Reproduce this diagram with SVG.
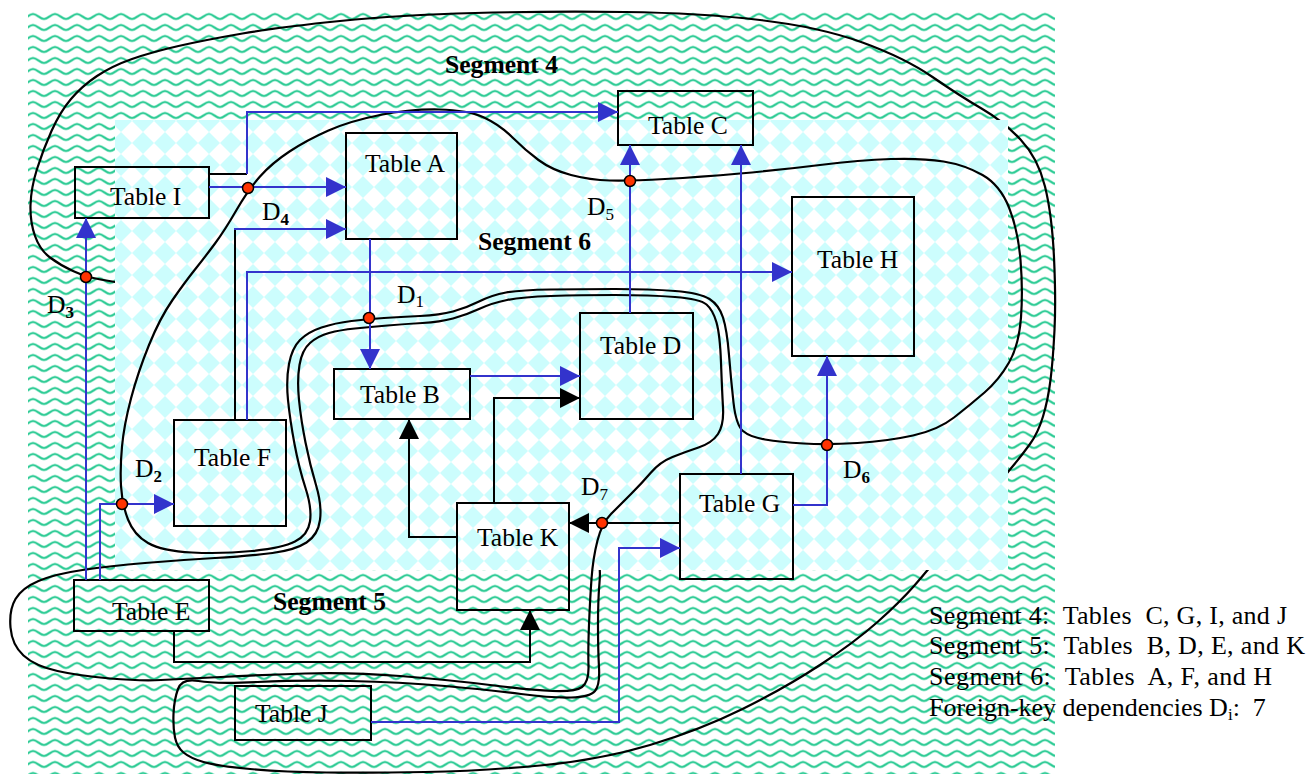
<svg xmlns="http://www.w3.org/2000/svg" width="1309" height="774" viewBox="0 0 1309 774">
  <defs>
    <!-- wavy green fill of the outer area -->
    <pattern id="waves" patternUnits="userSpaceOnUse" x="0" y="0" width="22" height="11">
      <rect width="22" height="11" fill="#ffffff"/>
      <path d="M-11,3 C-7,3 -4,8 0,8 C4,8 7,3 11,3 C15,3 18,8 22,8 C26,8 29,3 33,3" fill="none" stroke="#a6ecd4" stroke-width="3"/>
      <path d="M-11,3 C-7,3 -4,8 0,8 C4,8 7,3 11,3 C15,3 18,8 22,8 C26,8 29,3 33,3" fill="none" stroke="#2fcb95" stroke-width="1.6"/>
    </pattern>
    <!-- light cyan diamond checker of the inner area -->
    <pattern id="diamonds" patternUnits="userSpaceOnUse" x="0" y="0" width="22" height="22">
      <rect width="22" height="22" fill="#ffffff"/>
      <polygon points="11,0 22,11 11,22 0,11" fill="#ccfdfd"/>
    </pattern>
    <marker id="arrBlue" markerUnits="userSpaceOnUse" viewBox="0 0 20 20" markerWidth="20" markerHeight="20" refX="20" refY="10" orient="auto">
      <path d="M0,0 L20,10 L0,20 z" fill="#3333cc"/>
    </marker>
    <marker id="arrBlack" markerUnits="userSpaceOnUse" viewBox="0 0 20 20" markerWidth="20" markerHeight="20" refX="20" refY="10" orient="auto">
      <path d="M0,0 L20,10 L0,20 z" fill="#000000"/>
    </marker>
  </defs>
  <style>
    .tbl { fill: none; stroke: #000; stroke-width: 2; }
    .lbl { font-family: "Liberation Serif", "Times New Roman", serif; font-size: 25.6px; fill: #000; }
    .seg { font-family: "Liberation Serif", "Times New Roman", serif; font-size: 25.6px; font-weight: bold; fill: #000; }
    .leg { font-family: "Liberation Serif", "Times New Roman", serif; font-size: 26px; fill: #000; white-space: pre; }
    .sub { font-size: 17px; }
    .bnd { fill: none; stroke: #000; stroke-width: 2.2; stroke-linejoin: round; }
    .fkB { fill: none; stroke: #3333cc; stroke-width: 2; }
    .fkK { fill: none; stroke: #000; stroke-width: 2; }
    .dot { fill: #ff3300; stroke: #000; stroke-width: 1.5; }
  </style>

  <!-- background areas -->
  <rect x="28" y="10" width="1027" height="764" fill="url(#waves)"/>
  <!-- outer boundary (Segment 4), partly hidden by the inner area -->
  <path id="boundary-seg4" class="bnd" d="M150,288 Q115,282 100.5,279.5 Q86,277 73,271 Q60,265 50,257.5 Q40,250 35,236 Q30,222 30.5,205 Q31,188 37,169 Q43,150 51.5,131 Q60,112 71,99 Q82,86 97,76 Q112,66 132,59 Q152,52 178.5,46 Q205,40 242.5,33.5 Q280,27 340,21 Q400,15 475,13 Q550,11 625,12 Q700,13 760,20 Q820,27 862.5,42.5 Q905,58 932.5,77 Q960,96 981.5,108.5 Q1003,121 1020.5,139.5 Q1038,158 1045,186.5 Q1052,215 1054,257.5 Q1056,300 1054.5,330 Q1053,360 1050.5,380 Q1048,400 1043,416.5 Q1038,433 1030,444 Q1022,455 1015,463.5 Q1008,472 988,496 Q968,520 948,545 Q928,570 914,586 Q900,602 877.5,622 Q855,642 820,665 Q785,688 742.5,709 Q700,730 650,745 Q600,760 540,765.5 Q480,771 425,772 Q370,773 326.5,772.5 Q283,772 250,769 Q217,766 203.5,762 Q190,758 183.5,752.5 Q177,747 175,737.5 Q173,728 173.5,714 Q174,700 178,689 Q182,678 198.5,681 Q215,684 257.5,682 Q300,680 350,681 Q400,682 445,686 Q490,690 521,694 Q552,698 571,697.5 Q590,697 595,691 Q600,685 599,667.5 Q598,650 598,625 Q598,600 599.5,582.5 Q601,565 597,558"/>
  <rect x="115" y="120" width="893" height="450" fill="url(#diamonds)"/>

  <!-- Segment 6 boundary -->
  <path id="boundary-seg6" class="bnd" d="M128,519.5 Q122,504 121,486 Q120,468 122,446.5 Q124,425 131,398.5 Q138,372 149,345 Q160,318 172.5,300 Q185,282 195,269.5 Q205,257 215,243.5 Q225,230 236.5,210 Q248,190 260,176.5 Q272,163 289.5,151.5 Q307,140 328.5,130.5 Q350,121 380,115 Q410,109 439,109.5 Q468,110 484,117.5 Q500,125 512.5,137.5 Q525,150 538.5,160 Q552,170 571,175 Q590,180 610,180.5 Q630,181 665,179 Q700,177 740,173.5 Q780,170 820,165 Q860,160 891,159 Q922,158 943.5,161.5 Q965,165 982.5,175 Q1000,185 1009,207.5 Q1018,230 1020.5,260 Q1023,290 1021,317.5 Q1019,345 1009,362.5 Q999,380 984.5,392.5 Q970,405 954,417.5 Q938,430 913,435.5 Q888,441 857.5,443 Q827,445 803.5,443.5 Q780,442 765,439.5 Q750,437 743,431 Q736,425 733.5,402.5 Q731,380 729,355 Q727,330 723,317.5 Q719,305 709.5,299 Q700,293 675,291 Q650,289 615,289 Q580,289 550,289.5 Q520,290 506,292.5 Q492,295 479,301.5 Q466,308 453,311.5 Q440,315 420,316 Q400,317 384,318 Q368,319 351.5,321 Q335,323 321.5,327.5 Q308,332 300,340 Q292,348 289,364 Q286,380 288,400 Q290,420 294.5,444 Q299,468 305.5,488 Q312,508 310,521.5 Q308,535 295,541.5 Q282,548 252,551 Q222,554 192,552.5 Q162,551 148,543 Q134,535 128,519.5 Z"/>

  <!-- Segment 5 boundary -->
  <path id="boundary-seg5" class="bnd" d="M329,333 Q340,330 355,328.5 Q370,327 387.5,325.5 Q405,324 422.5,323 Q440,322 453,318.5 Q466,315 479,309 Q492,303 507,300 Q522,297 551,296 Q580,295 615,295 Q650,295 675,297 Q700,299 706.5,304.5 Q713,310 716.5,322.5 Q720,335 721,362.5 Q722,390 723,407.5 Q724,425 718,434 Q712,443 698.5,447.5 Q685,452 672.5,457 Q660,462 651,472.5 Q642,483 631,494 Q620,505 611,514 Q602,523 597.5,540.5 Q593,558 591.5,579 Q590,600 589,625 Q588,650 588.5,666 Q589,682 582,687 Q575,692 552.5,691 Q530,690 490,685 Q450,680 400,676 Q350,672 305,673.5 Q260,675 221,677 Q182,679 161,680 Q140,681 110,678.5 Q80,676 57.5,671 Q35,666 23.5,655.5 Q12,645 10.5,627.5 Q9,610 15.5,599 Q22,588 38.5,581 Q55,574 82.5,570 Q110,566 145,563 Q180,560 215,558 Q250,556 272.5,553 Q295,550 306.5,542.5 Q318,535 320,520 Q322,505 316,485 Q310,465 305.5,442.5 Q301,420 299,400 Q297,380 299.5,365 Q302,350 310,343 Q318,336 329,333 Z"/>

  <!-- tables -->
  <g id="table-i"><rect class="tbl" x="75" y="167" width="134" height="51"/><text class="lbl" x="110" y="205">Table I</text></g>
  <g id="table-a"><rect class="tbl" x="346" y="133" width="111" height="106"/><text class="lbl" x="365" y="172">Table A</text></g>
  <g id="table-c"><rect class="tbl" x="618" y="91" width="135" height="54"/><text class="lbl" x="648" y="134">Table C</text></g>
  <g id="table-h"><rect class="tbl" x="792" y="197" width="122" height="159"/><text class="lbl" x="817" y="268">Table H</text></g>
  <g id="table-d"><rect class="tbl" x="580" y="313" width="113" height="106"/><text class="lbl" x="600" y="354">Table D</text></g>
  <g id="table-b"><rect class="tbl" x="334" y="369" width="136" height="50"/><text class="lbl" x="360" y="403">Table B</text></g>
  <g id="table-f"><rect class="tbl" x="174" y="420" width="112" height="106"/><text class="lbl" x="194" y="466">Table F</text></g>
  <g id="table-k"><rect class="tbl" x="457" y="503" width="112" height="107"/><text class="lbl" x="477" y="546">Table K</text></g>
  <g id="table-g"><rect class="tbl" x="680" y="474" width="113" height="105"/><text class="lbl" x="699" y="512">Table G</text></g>
  <g id="table-e"><rect class="tbl" x="74" y="580" width="135" height="51"/><text class="lbl" x="112" y="620">Table E</text></g>
  <g id="table-j"><rect class="tbl" x="235" y="686" width="136" height="54"/><text class="lbl" x="255" y="722">Table J</text></g>

  <!-- foreign-key connectors -->
  <g id="connectors">
    <path class="fkK" d="M209,174 H247"/>
    <path class="fkB" d="M247,174 V112 H618" marker-end="url(#arrBlue)"/>
    <path class="fkB" d="M209,187 H346" marker-end="url(#arrBlue)"/>
    <path class="fkK" d="M235,420 V229"/>
    <path class="fkB" d="M234,229 H346" marker-end="url(#arrBlue)"/>
    <path class="fkB" d="M247,420 V272 H792" marker-end="url(#arrBlue)"/>
    <path class="fkB" d="M370,239 V369" marker-end="url(#arrBlue)"/>
    <path class="fkB" d="M470,376 H580" marker-end="url(#arrBlue)"/>
    <path class="fkB" d="M630,313 V145" marker-end="url(#arrBlue)"/>
    <path class="fkB" d="M741,474 V145" marker-end="url(#arrBlue)"/>
    <path class="fkB" d="M793,505 H827 V356" marker-end="url(#arrBlue)"/>
    <path class="fkB" d="M86,580 V218" marker-end="url(#arrBlue)"/>
    <path class="fkB" d="M100,580 V504 H174" marker-end="url(#arrBlue)"/>
    <path class="fkB" d="M371,722 H619 V548 H680" marker-end="url(#arrBlue)"/>
    <path class="fkK" d="M494,503 V398 H580" marker-end="url(#arrBlack)"/>
    <path class="fkK" d="M457,537 H409 V419" marker-end="url(#arrBlack)"/>
    <path class="fkK" d="M680,523 H569" marker-end="url(#arrBlack)"/>
    <path class="fkK" d="M174,631 V662 H530 V610" marker-end="url(#arrBlack)"/>
  </g>

  <!-- crossing points of dependencies with segment boundaries -->
  <g id="crossings">
    <circle class="dot" cx="248" cy="188" r="5.5"/>
    <circle class="dot" cx="630" cy="181" r="5.5"/>
    <circle class="dot" cx="86" cy="277" r="5.5"/>
    <circle class="dot" cx="369" cy="318" r="5.5"/>
    <circle class="dot" cx="122" cy="504" r="5.5"/>
    <circle class="dot" cx="827" cy="445" r="5.5"/>
    <circle class="dot" cx="602" cy="523" r="5.5"/>
  </g>

  <!-- dependency labels -->
  <g id="dep-labels">
    <text class="lbl" x="397" y="303">D<tspan class="sub" dy="4">1</tspan></text>
    <text class="lbl" x="135" y="477">D<tspan class="sub" dy="5" font-weight="bold">2</tspan></text>
    <text class="lbl" x="47" y="313">D<tspan class="sub" dy="5" font-weight="bold">3</tspan></text>
    <text class="lbl" x="262" y="220">D<tspan class="sub" dy="5" font-weight="bold">4</tspan></text>
    <text class="lbl" x="587" y="215">D<tspan class="sub" dy="5">5</tspan></text>
    <text class="lbl" x="843" y="478">D<tspan class="sub" dy="5" font-weight="bold">6</tspan></text>
    <text class="lbl" x="581" y="495">D<tspan class="sub" dy="5">7</tspan></text>
  </g>

  <!-- segment titles -->
  <text class="seg" x="445" y="73">Segment 4</text>
  <text class="seg" x="478" y="250">Segment 6</text>
  <text class="seg" x="273" y="610">Segment 5</text>

  <!-- legend -->
  <g id="legend">
    <text class="leg" x="929" y="624" textLength="358" lengthAdjust="spacing">Segment 4:  Tables  C, G, I, and J</text>
    <text class="leg" x="929" y="654" textLength="376" lengthAdjust="spacing">Segment 5:  Tables  B, D, E, and K</text>
    <text class="leg" x="929" y="685" textLength="343" lengthAdjust="spacing">Segment 6:  Tables  A, F, and H</text>
    <text class="leg" x="929" y="716">Foreign-key dependencies D<tspan class="sub" dy="4">i</tspan><tspan dy="-4">:  7</tspan></text>
  </g>
</svg>
